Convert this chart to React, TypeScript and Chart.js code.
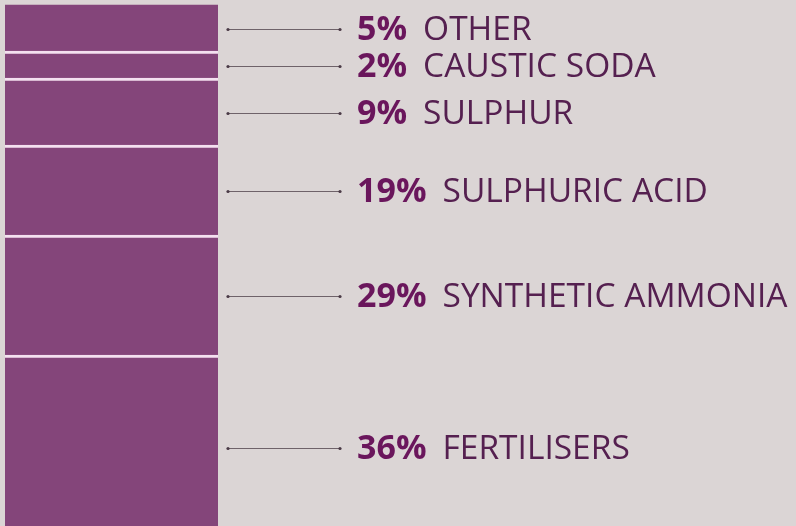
import React, { useEffect, useRef } from "react";
import { Chart, registerables } from "chart.js";

Chart.register(...registerables);

// Segments, bottom to top
const categories = ["FERTILISERS", "SYNTHETIC AMMONIA", "SULPHURIC ACID", "SULPHUR", "CAUSTIC SODA", "OTHER"];
const percentLabels = ["36%", "29%", "19%", "9%", "2%", "5%"];
// Visual segment heights as drawn in the picture (not proportional to the percentages)
const segmentHeights = [183, 120, 90, 67, 27, 46];

const BG = "#dbd5d5";
const BAR = "#84457a";
const SEP = "#f4e0f0";

const labelPlugin = {
  id: "leaderLabels",
  afterDatasetsDraw(chart: any) {
    const ctx = chart.ctx;
    ctx.save();
    chart.data.datasets.forEach((ds: any, i: number) => {
      const meta = chart.getDatasetMeta(i);
      const el: any = meta.data[0];
      if (!el) return;
      const y = Math.round((el.y + el.base) / 2) + 1.5;
      const x1 = 228;
      const x2 = 340;
      ctx.strokeStyle = "#6e6269";
      ctx.lineWidth = 1;
      ctx.beginPath();
      ctx.moveTo(x1, y);
      ctx.lineTo(x2, y);
      ctx.stroke();
      ctx.fillStyle = "#4a3a46";
      [x1, x2].forEach((x) => {
        ctx.beginPath();
        ctx.arc(x, y, 1.6, 0, Math.PI * 2);
        ctx.fill();
      });
      const tx = 357;
      ctx.textBaseline = "middle";
      ctx.textAlign = "left";
      ctx.font = "bold 34px 'Open Sans'";
      ctx.fillStyle = "#6a165c";
      const pct = ds.pct;
      ctx.fillText(pct, tx, y + 1);
      const w = ctx.measureText(pct).width;
      ctx.font = "33.5px 'Open Sans'";
      ctx.fillStyle = "#552050";
      ctx.fillText(ds.label, tx + w + 16, y + 1);
    });
    ctx.restore();
  },
};

export default function App() {
  const ref = useRef<HTMLCanvasElement>(null);
  useEffect(() => {
    document.body.style.margin = "0";
    const datasets = categories.map((c, i) => ({
      label: c,
      pct: percentLabels[i],
      data: [segmentHeights[i]],
      backgroundColor: BAR,
      borderColor: SEP,
      borderWidth: i === categories.length - 1 ? 0 : { top: 3, left: 0, right: 0, bottom: 0 },
      borderSkipped: false,
      barPercentage: 1,
      categoryPercentage: 1,
    }));
    const chart = new Chart(ref.current!, {
      type: "bar",
      data: { labels: [""], datasets: datasets as any },
      options: {
        animation: false,
        responsive: false,
        maintainAspectRatio: false,
        layout: { padding: { left: 5, right: 578, top: 0, bottom: 0 } },
        plugins: { legend: { display: false }, tooltip: { enabled: false } },
        scales: {
          x: { stacked: true, display: false, grid: { display: false } },
          y: { stacked: true, display: false, min: 12, max: 538, grid: { display: false } },
        },
      },
      plugins: [labelPlugin],
    });
    return () => chart.destroy();
  }, []);
  return (
    <div style={{ position: "absolute", left: 0, top: 0, width: 796, height: 526, background: BG }}>
      <canvas ref={ref} width={796} height={526} style={{ display: "block" }} />
    </div>
  );
}
